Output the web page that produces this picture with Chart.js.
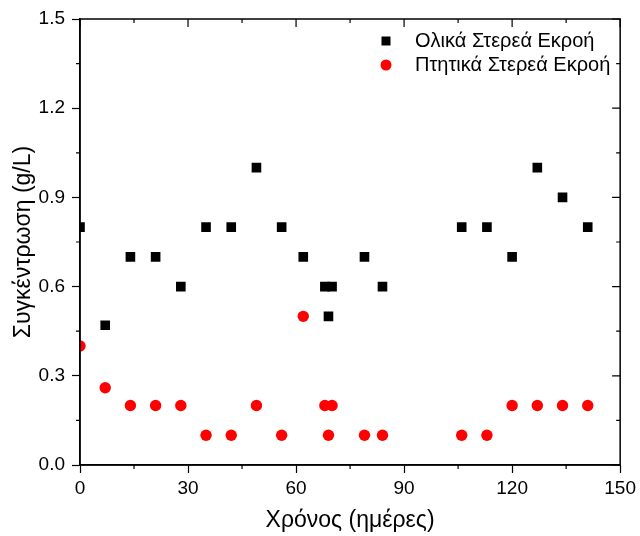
<!DOCTYPE html>
<html>
<head>
<meta charset="utf-8">
<script src="https://cdn.jsdelivr.net/npm/chart.js@4.4.1/dist/chart.umd.min.js"></script>
<style>
  html, body { margin: 0; padding: 0; background: #fff; }
  #wrap { width: 640px; height: 536px; }
</style>
</head>
<body>
<div id="wrap"><canvas id="chart"></canvas></div>
<script>
'use strict';

// days
var totalDays = [0, 7, 14, 21, 28, 35, 42, 49, 56, 62, 68, 69, 70, 79, 84, 106, 113, 120, 127, 134, 141];
var totalVals = [0.8, 0.47, 0.7, 0.7, 0.6, 0.8, 0.8, 1.0, 0.8, 0.7, 0.6, 0.5, 0.6, 0.7, 0.6, 0.8, 0.8, 0.7, 1.0, 0.9, 0.8];

var volDays = [0, 7, 14, 21, 28, 35, 42, 49, 56, 62, 68, 69, 70, 79, 84, 106, 113, 120, 127, 134, 141];
var volVals = [0.4, 0.26, 0.2, 0.2, 0.2, 0.1, 0.1, 0.2, 0.1, 0.5, 0.2, 0.1, 0.2, 0.1, 0.1, 0.1, 0.1, 0.2, 0.2, 0.2, 0.2];

var seriesNames = ['Ολικά Στερεά Εκροή', 'Πτητικά Στερεά Εκροή'];
var xTitle = 'Χρόνος (ημέρες)';
var yTitle = 'Συγκέντρωση (g/L)';

var FONT = "'Liberation Sans', Arial, sans-serif";

function toPoints(xs, ys) {
    var pts = [];
    for (var i = 0; i < xs.length; i++) pts.push({ x: xs[i], y: ys[i] });
    return pts;
}

// frame, minor ticks, mirrored ticks and legend
var framePlugin = {
    id: 'frame',
    afterDraw: function (chart) {
        var ctx = chart.ctx, a = chart.chartArea;
        var xs = chart.scales.x, ys = chart.scales.y;
        ctx.save();
        ctx.strokeStyle = '#000';
        ctx.lineWidth = 1.5;
        ctx.strokeRect(a.left, a.top, a.right - a.left, a.bottom - a.top);

        ctx.lineWidth = 1.2;
        ctx.beginPath();
        for (var v = 0; v <= 150; v += 15) {
            var px = xs.getPixelForValue(v);
            var major = v % 30 === 0;
            if (!major) { ctx.moveTo(px, a.bottom); ctx.lineTo(px, a.bottom + 4); }
            ctx.moveTo(px, a.top); ctx.lineTo(px, a.top + (major ? 8 : 4));
        }
        for (var k = 0; k <= 10; k++) {
            var val = k * 0.15;
            var py = ys.getPixelForValue(val);
            var maj = k % 2 === 0;
            if (!maj) { ctx.moveTo(a.left, py); ctx.lineTo(a.left - 4, py); }
            ctx.moveTo(a.right, py); ctx.lineTo(a.right - (maj ? 8 : 4), py);
        }
        ctx.stroke();

        // legend
        ctx.font = '20px ' + FONT;
        ctx.textBaseline = 'middle';
        ctx.textAlign = 'left';
        var lx = a.left + 306, ly = a.top + 22;
        chart.data.datasets.forEach(function (ds, i) {
            var y = ly + i * 24;
            ctx.fillStyle = ds.backgroundColor;
            if (ds.pointStyle === 'rect') {
                ctx.fillRect(lx - 4.5, y - 4.5, 9, 9);
            } else {
                ctx.beginPath();
                ctx.arc(lx, y, 5.5, 0, Math.PI * 2);
                ctx.fill();
            }
            ctx.fillStyle = '#000';
            ctx.fillText(ds.label, lx + 29, y);
        });
        ctx.restore();
    }
};

var ctx = document.getElementById('chart');
var chart = new Chart(ctx, {
    type: 'scatter',
    data: {
        datasets: [{
            label: seriesNames[0],
            data: toPoints(totalDays, totalVals),
            pointStyle: 'rect',
            pointRadius: 6.8,
            pointHoverRadius: 6.8,
            backgroundColor: '#000000',
            borderColor: '#000000',
            borderWidth: 0,
            clip: 0
        }, {
            label: seriesNames[1],
            data: toPoints(volDays, volVals),
            pointStyle: 'circle',
            pointRadius: 5.7,
            pointHoverRadius: 5.7,
            backgroundColor: '#ff0000',
            borderColor: '#ff0000',
            borderWidth: 0,
            clip: 0
        }]
    },
    options: {
        responsive: true,
        maintainAspectRatio: false,
        animation: false,
        events: [],
        layout: { padding: { top: 19, right: 18, left: 0, bottom: 0 } },
        plugins: {
            legend: { display: false },
            tooltip: { enabled: false }
        },
        scales: {
            x: {
                type: 'linear',
                min: 0,
                max: 150,
                afterFit: function (s) { s.height = 71; },
                ticks: {
                    stepSize: 30,
                    color: '#000',
                    padding: 4,
                    font: { family: FONT, size: 19 }
                },
                grid: { drawOnChartArea: false, tickLength: 8, color: '#000', tickWidth: 1.2 },
                border: { color: '#000', width: 1.5 },
                title: {
                    display: true,
                    text: xTitle,
                    color: '#000',
                    font: { family: FONT, size: 23 },
                    padding: { top: 0, bottom: 2 }
                }
            },
            y: {
                type: 'linear',
                min: 0,
                max: 1.5,
                afterFit: function (s) { s.width = 80; },
                ticks: {
                    stepSize: 0.3,
                    color: '#000',
                    padding: 7,
                    font: { family: FONT, size: 19 },
                    callback: function (v) { return v.toFixed(1); }
                },
                grid: { drawOnChartArea: false, tickLength: 8, color: '#000', tickWidth: 1.2 },
                border: { color: '#000', width: 1.5 },
                title: {
                    display: true,
                    text: yTitle,
                    color: '#000',
                    font: { family: FONT, size: 23 },
                    padding: { top: 10, bottom: 0 }
                }
            }
        }
    },
    plugins: [framePlugin]
});
</script>
</body>
</html>
